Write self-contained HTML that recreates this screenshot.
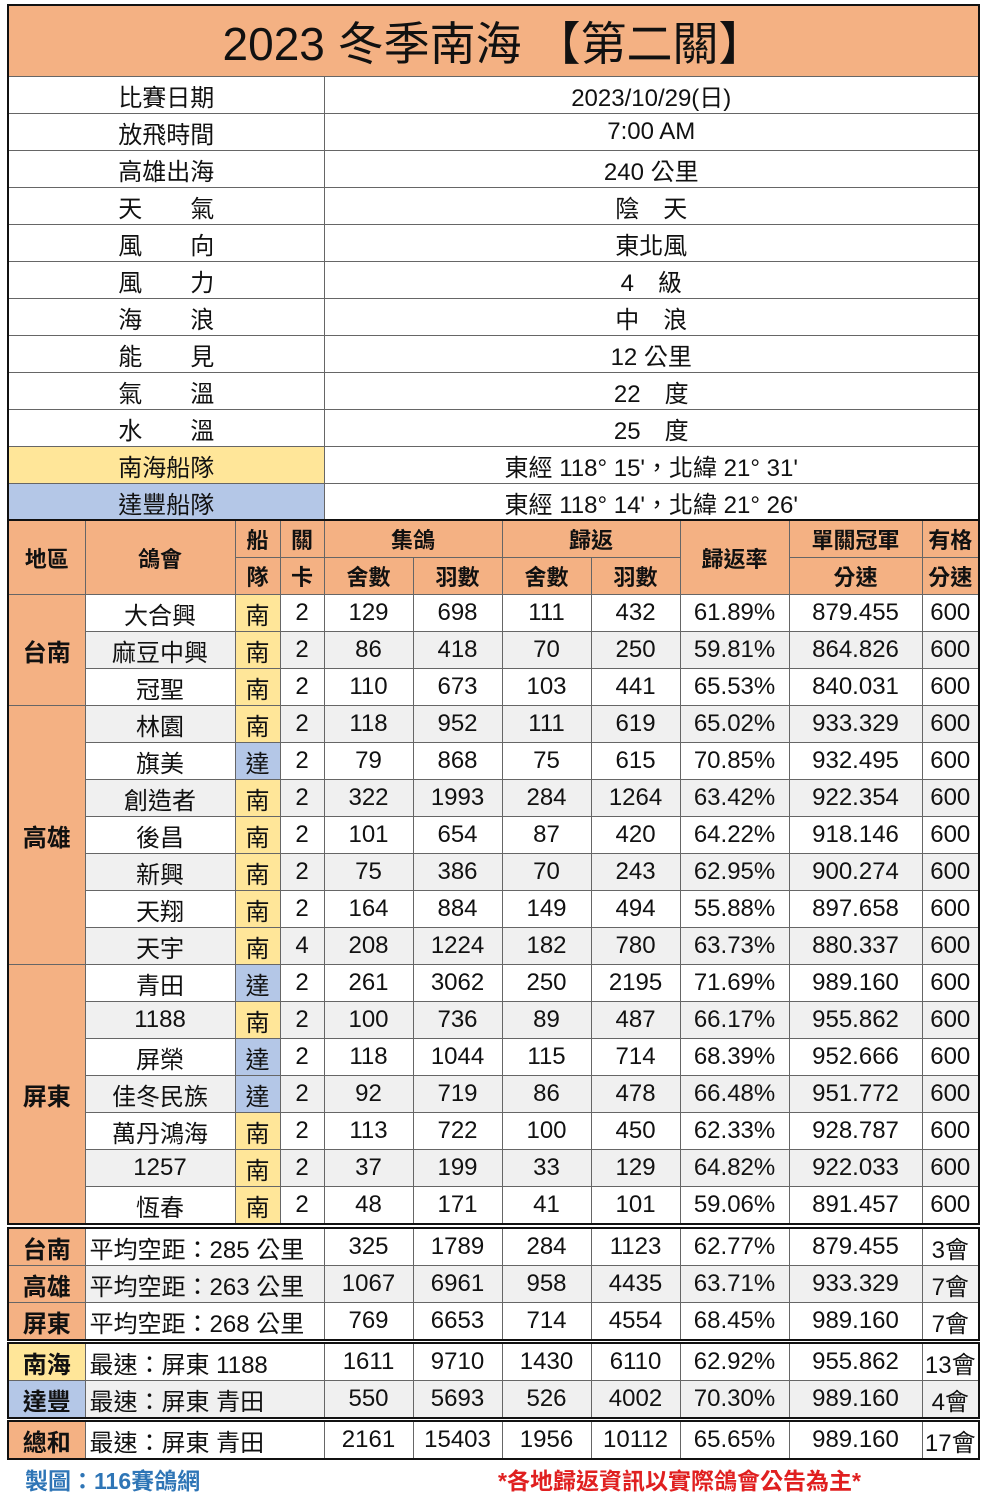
<!DOCTYPE html>
<html><head><meta charset="utf-8"><style>
body{margin:0;background:#fff;width:989px;height:1500px;position:relative;overflow:hidden;font-family:"Liberation Sans","Noto Sans CJK TC",sans-serif;color:#111}
table{position:absolute;left:7px;width:973px;border-collapse:collapse;table-layout:fixed;border:2px solid #111}
td{border:1px solid #666;text-align:center;padding:0;font-size:24px;height:36px;white-space:nowrap;overflow:hidden}
.o{background:#f4b183}.y{background:#ffe699}.b{background:#b4c7e7}.g{background:#f0f0f0}
.h td{font-weight:bold;font-size:22px}
.rb{font-weight:bold}
.l{text-align:left;padding-left:4px}
</style></head><body>
<table style="top:4px">
<colgroup><col style="width:316px"><col></colgroup>
<tr><td colspan="2" class="o" style="height:70px;font-size:46px;font-weight:normal">2023 冬季南海 【第二關】</td></tr>
<tr><td>比賽日期</td><td>2023/10/29(日)</td></tr>
<tr><td>放飛時間</td><td>7:00 AM</td></tr>
<tr><td>高雄出海</td><td>240 公里</td></tr>
<tr><td>天　　氣</td><td>陰　天</td></tr>
<tr><td>風　　向</td><td>東北風</td></tr>
<tr><td>風　　力</td><td>4　級</td></tr>
<tr><td>海　　浪</td><td>中　浪</td></tr>
<tr><td>能　　見</td><td>12 公里</td></tr>
<tr><td>氣　　溫</td><td>22　度</td></tr>
<tr><td>水　　溫</td><td>25　度</td></tr>
<tr><td class="y">南海船隊</td><td>東經 118° 15'，北緯 21° 31'</td></tr>
<tr><td class="b">達豐船隊</td><td>東經 118° 14'，北緯 21° 26'</td></tr>
</table>
<table style="top:519px">
<colgroup><col style="width:77px"><col style="width:150px"><col style="width:45px"><col style="width:44px"><col style="width:89px"><col style="width:89px"><col style="width:89px"><col style="width:89px"><col style="width:109px"><col style="width:133px"><col></colgroup>
<tr class="h o"><td rowspan="2">地區</td><td rowspan="2">鴿會</td><td>船</td><td>關</td><td colspan="2">集鴿</td><td colspan="2">歸返</td><td rowspan="2">歸返率</td><td>單關冠軍</td><td>有格</td></tr>
<tr class="h o"><td>隊</td><td>卡</td><td>舍數</td><td>羽數</td><td>舍數</td><td>羽數</td><td>分速</td><td>分速</td></tr>
<tr><td rowspan="3" class="o rb">台南</td><td>大合興</td><td class="y">南</td><td>2</td><td>129</td><td>698</td><td>111</td><td>432</td><td>61.89%</td><td>879.455</td><td>600</td></tr>
<tr class="g"><td>麻豆中興</td><td class="y">南</td><td>2</td><td>86</td><td>418</td><td>70</td><td>250</td><td>59.81%</td><td>864.826</td><td>600</td></tr>
<tr><td>冠聖</td><td class="y">南</td><td>2</td><td>110</td><td>673</td><td>103</td><td>441</td><td>65.53%</td><td>840.031</td><td>600</td></tr>
<tr class="g"><td rowspan="7" class="o rb">高雄</td><td>林園</td><td class="y">南</td><td>2</td><td>118</td><td>952</td><td>111</td><td>619</td><td>65.02%</td><td>933.329</td><td>600</td></tr>
<tr><td>旗美</td><td class="b">達</td><td>2</td><td>79</td><td>868</td><td>75</td><td>615</td><td>70.85%</td><td>932.495</td><td>600</td></tr>
<tr class="g"><td>創造者</td><td class="y">南</td><td>2</td><td>322</td><td>1993</td><td>284</td><td>1264</td><td>63.42%</td><td>922.354</td><td>600</td></tr>
<tr><td>後昌</td><td class="y">南</td><td>2</td><td>101</td><td>654</td><td>87</td><td>420</td><td>64.22%</td><td>918.146</td><td>600</td></tr>
<tr class="g"><td>新興</td><td class="y">南</td><td>2</td><td>75</td><td>386</td><td>70</td><td>243</td><td>62.95%</td><td>900.274</td><td>600</td></tr>
<tr><td>天翔</td><td class="y">南</td><td>2</td><td>164</td><td>884</td><td>149</td><td>494</td><td>55.88%</td><td>897.658</td><td>600</td></tr>
<tr class="g"><td>天宇</td><td class="y">南</td><td>4</td><td>208</td><td>1224</td><td>182</td><td>780</td><td>63.73%</td><td>880.337</td><td>600</td></tr>
<tr><td rowspan="7" class="o rb">屏東</td><td>青田</td><td class="b">達</td><td>2</td><td>261</td><td>3062</td><td>250</td><td>2195</td><td>71.69%</td><td>989.160</td><td>600</td></tr>
<tr class="g"><td>1188</td><td class="y">南</td><td>2</td><td>100</td><td>736</td><td>89</td><td>487</td><td>66.17%</td><td>955.862</td><td>600</td></tr>
<tr><td>屏榮</td><td class="b">達</td><td>2</td><td>118</td><td>1044</td><td>115</td><td>714</td><td>68.39%</td><td>952.666</td><td>600</td></tr>
<tr class="g"><td>佳冬民族</td><td class="b">達</td><td>2</td><td>92</td><td>719</td><td>86</td><td>478</td><td>66.48%</td><td>951.772</td><td>600</td></tr>
<tr><td>萬丹鴻海</td><td class="y">南</td><td>2</td><td>113</td><td>722</td><td>100</td><td>450</td><td>62.33%</td><td>928.787</td><td>600</td></tr>
<tr class="g"><td>1257</td><td class="y">南</td><td>2</td><td>37</td><td>199</td><td>33</td><td>129</td><td>64.82%</td><td>922.033</td><td>600</td></tr>
<tr><td>恆春</td><td class="y">南</td><td>2</td><td>48</td><td>171</td><td>41</td><td>101</td><td>59.06%</td><td>891.457</td><td>600</td></tr>
</table>
<table style="top:1227px">
<colgroup><col style="width:77px"><col style="width:239px"><col style="width:89px"><col style="width:89px"><col style="width:89px"><col style="width:89px"><col style="width:109px"><col style="width:133px"><col></colgroup>
<tr><td class="o rb">台南</td><td class="l">平均空距：285 公里</td><td>325</td><td>1789</td><td>284</td><td>1123</td><td>62.77%</td><td>879.455</td><td>3會</td></tr>
<tr class="g"><td class="o rb">高雄</td><td class="l">平均空距：263 公里</td><td>1067</td><td>6961</td><td>958</td><td>4435</td><td>63.71%</td><td>933.329</td><td>7會</td></tr>
<tr><td class="o rb">屏東</td><td class="l">平均空距：268 公里</td><td>769</td><td>6653</td><td>714</td><td>4554</td><td>68.45%</td><td>989.160</td><td>7會</td></tr>
</table>
<table style="top:1342px">
<colgroup><col style="width:77px"><col style="width:239px"><col style="width:89px"><col style="width:89px"><col style="width:89px"><col style="width:89px"><col style="width:109px"><col style="width:133px"><col></colgroup>
<tr><td class="y rb">南海</td><td class="l">最速：屏東 1188</td><td>1611</td><td>9710</td><td>1430</td><td>6110</td><td>62.92%</td><td>955.862</td><td>13會</td></tr>
<tr class="g"><td class="b rb">達豐</td><td class="l">最速：屏東 青田</td><td>550</td><td>5693</td><td>526</td><td>4002</td><td>70.30%</td><td>989.160</td><td>4會</td></tr>
</table>
<table style="top:1420px">
<colgroup><col style="width:77px"><col style="width:239px"><col style="width:89px"><col style="width:89px"><col style="width:89px"><col style="width:89px"><col style="width:109px"><col style="width:133px"><col></colgroup>
<tr><td class="o rb">總和</td><td class="l">最速：屏東 青田</td><td>2161</td><td>15403</td><td>1956</td><td>10112</td><td>65.65%</td><td>989.160</td><td>17會</td></tr>
</table>
<div style="position:absolute;left:25px;top:1462px;font-size:23px;font-weight:bold;color:#2e75b6">製圖：116賽鴿網</div>
<div style="position:absolute;left:498px;top:1462px;font-size:23px;font-weight:bold;color:#e02020">*各地歸返資訊以實際鴿會公告為主*</div>
</body></html>
